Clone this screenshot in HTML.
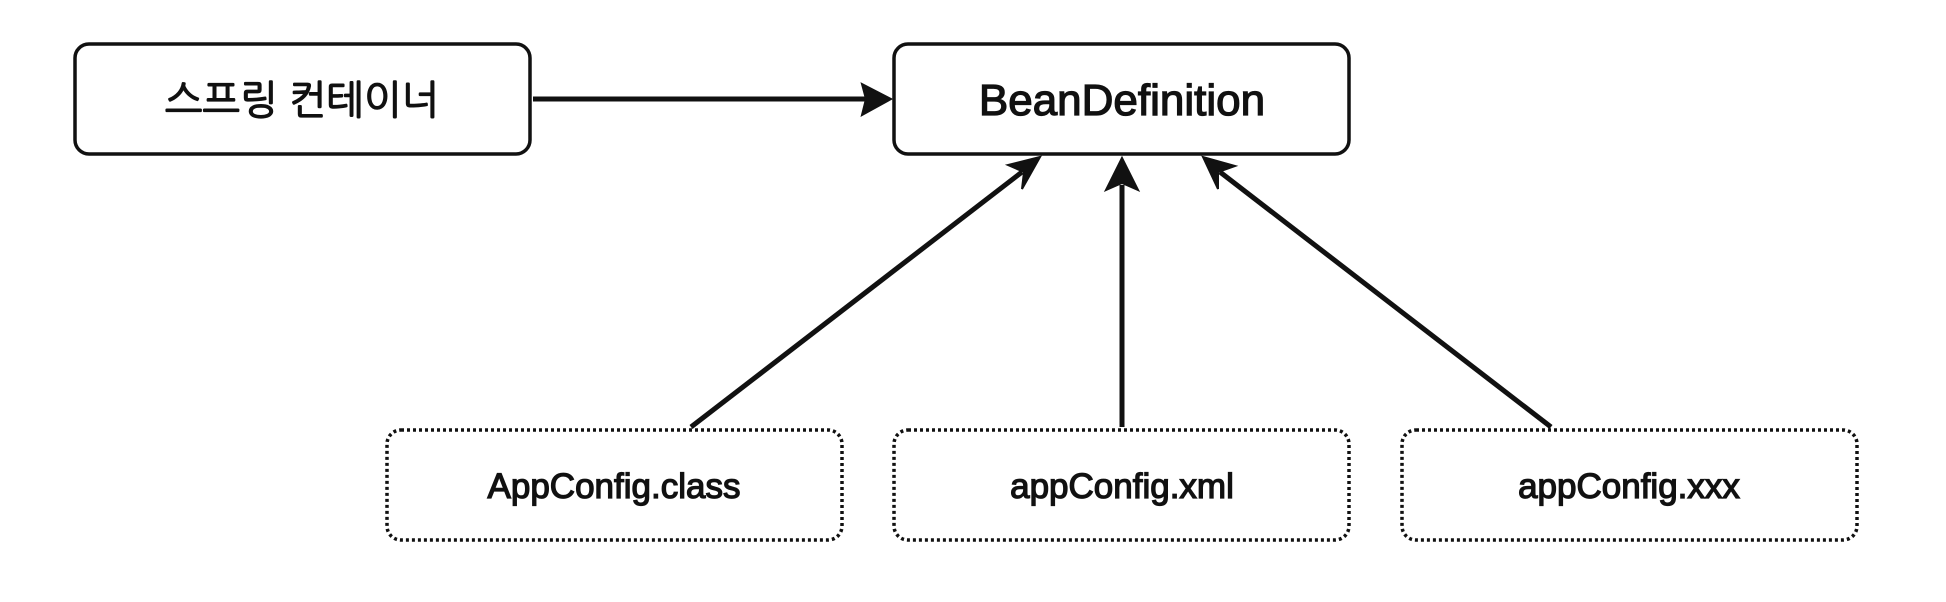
<!DOCTYPE html>
<html><head><meta charset="utf-8"><style>
html,body{margin:0;padding:0;background:#fff;width:1946px;height:602px;overflow:hidden}
text{font-family:"Liberation Sans","NanumGothic","Noto Sans CJK KR",sans-serif;fill:#111;stroke:#111;stroke-width:1.3px}
</style></head><body>
<svg width="1946" height="602" viewBox="0 0 1946 602" xmlns="http://www.w3.org/2000/svg">
<g fill="none" stroke="#111" stroke-width="3.5">
<rect x="75" y="44" width="455" height="110" rx="14"/>
<rect x="894" y="44" width="455" height="110" rx="14"/>
<g stroke-dasharray="3 3">
<rect x="387" y="430" width="455" height="110" rx="14"/>
<rect x="894" y="430" width="455" height="110" rx="14"/>
<rect x="1402" y="430" width="455" height="110" rx="14"/>
</g>
<g stroke-width="5">
<line x1="533" y1="99" x2="868" y2="99"/>
<line x1="691" y1="427" x2="1022" y2="172"/>
<line x1="1122" y1="427" x2="1122" y2="185"/>
<line x1="1551" y1="427" x2="1220" y2="172"/>
</g>
</g>
<g fill="#111" stroke="#111" stroke-width="2">
<polygon points="891,99 862,84 866,99 862,115"/>
<polygon points="1040,157 1008,165 1024,172 1022,189"/>
<polygon points="1122,158 1106,190 1122,183 1138,190"/>
<polygon points="1203,157 1218,189 1218,172 1235,166"/>
</g>
<text x="302" y="114" font-size="40" text-anchor="middle">스프링 컨테이너</text>
<text x="1122" y="115" font-size="44" text-anchor="middle">BeanDefinition</text>
<text x="614" y="498" font-size="35" text-anchor="middle">AppConfig.class</text>
<text x="1122" y="498" font-size="35" text-anchor="middle">appConfig.xml</text>
<text x="1629" y="498" font-size="35" text-anchor="middle">appConfig.xxx</text>
</svg>
</body></html>
